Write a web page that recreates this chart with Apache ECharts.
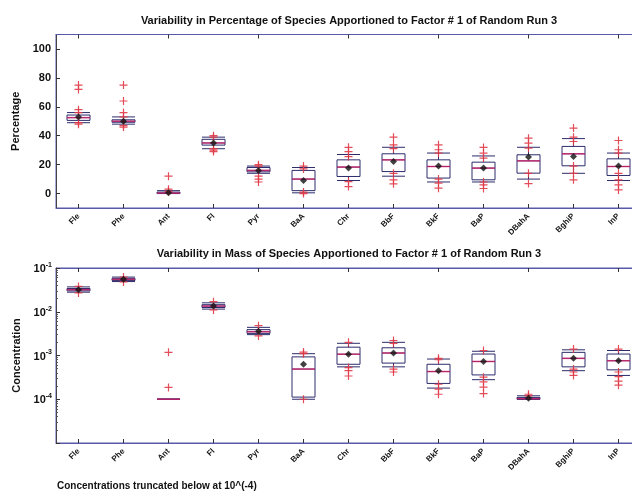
<!DOCTYPE html>
<html><head><meta charset="utf-8">
<script src="https://cdn.jsdelivr.net/npm/echarts@6/dist/echarts.min.js"></script>
<style>html,body{margin:0;padding:0;background:#fff;overflow:hidden}#c{width:650px;height:493px}</style>
</head><body><div id="c"></div>
<script>
// ---- data ----
const cats = ['Fle','Phe','Ant','Fl','Pyr','BaA','Chr','BbF','BkF','BaP','DBahA','BghiP','InP'];
const pctTicks = [0, 20, 40, 60, 80, 100];

// Percentage panel
const pctLo   = [49, 48, 0, 31, 14, 0.5, 9, 12, 8, 8, 10, 14, 9];
const pctQ1   = [50.6, 49.3, 0, 33.5, 15, 2, 11.8, 15.2, 10.7, 9.5, 14.1, 19.2, 12.5];
const pctMed  = [52.5, 50, 0.3, 35, 16, 10, 18.3, 23.3, 18.7, 17.6, 22.6, 27.5, 18.7];
const pctQ3   = [54.3, 51, 1, 37.5, 18, 16, 23.3, 27.5, 23.3, 21.7, 26.8, 32.6, 24];
const pctHi   = [56, 53, 2, 39, 19, 18, 27, 32, 28, 26, 32, 38, 28];
const pctMean = [53, 50, 0.6, 35, 16, 9, 17.6, 22.2, 19, 17.6, 25.2, 25.6, 19];
const pctOut  = [
  [75, 72, 58, 56, 49, 48],
  [75, 64, 56, 53, 47, 46],
  [12, 3, 1.5],
  [40, 39, 31, 30, 29],
  [20, 19, 12, 10, 8],
  [19, 17, 1, 0],
  [32, 29, 25.6, 8.3, 4.8],
  [39, 33.7, 31, 14, 9.5, 6.7],
  [33.7, 30.3, 28, 10, 7.2, 3.7],
  [31.9, 28, 24.5, 8, 6, 3.5],
  [38.3, 34.9, 31.4, 14, 6.9],
  [45.3, 39, 36, 19, 14, 9.5],
  [36.7, 30.3, 28, 14, 9.5, 6, 2.5]
];

// Concentration panel
const concLo   = [0.028, 0.049, 1e-4, 0.0115, 0.003, 1.0e-4, 5.5e-4, 5.5e-4, 1.8e-4, 2.8e-4, 1e-4, 4.5e-4, 3.5e-4];
const concQ1   = [0.030, 0.052, 1e-4, 0.0125, 0.0032, 1.12e-4, 6.3e-4, 6.7e-4, 2.3e-4, 3.6e-4, 1.0e-4, 5.5e-4, 4.7e-4];
const concMed  = [0.032, 0.055, 1e-4, 0.0135, 0.0035, 4.9e-4, 1.07e-3, 1.14e-3, 4.3e-4, 7.3e-4, 1.03e-4, 8.6e-4, 7.6e-4];
const concQ3   = [0.034, 0.058, 1e-4, 0.0145, 0.0039, 9.3e-4, 1.55e-3, 1.5e-3, 6.3e-4, 1.08e-3, 1.1e-4, 1.18e-3, 1.08e-3];
const concHi   = [0.037, 0.062, 1e-4, 0.016, 0.0044, 1.1e-3, 1.9e-3, 2.0e-3, 8.3e-4, 1.25e-3, 1.2e-4, 1.35e-3, 1.3e-3];
const concMean = [0.032, 0.055, null, 0.0135, 0.0036, 6.3e-4, 1.07e-3, 1.14e-3, 4.5e-4, 7.3e-4, 1.05e-4, 8.6e-4, 7.6e-4];
const concOut  = [
  [0.038, 0.027],
  [0.062, 0.048],
  [1.18e-3, 1.86e-4],
  [0.017, 0.011],
  [0.0048, 0.0028],
  [1.2e-3, 1.1e-3, 1e-4],
  [2.0e-3, 5.3e-4, 4.5e-4, 3.4e-4],
  [2.2e-3, 1.9e-3, 4.9e-4, 4.2e-4],
  [8.6e-4, 8e-4, 2.2e-4, 1.7e-4, 1.3e-4],
  [1.3e-3, 3.2e-4, 2.5e-4, 1.9e-4, 1.35e-4],
  [1.3e-4, 1.2e-4],
  [1.4e-3, 4.9e-4, 4.2e-4, 3.5e-4],
  [1.4e-3, 4.2e-4, 3.3e-4, 2.6e-4, 2.1e-4]
];

const title1 = 'Variability in Percentage of Species Apportioned to Factor # 1 of Random Run 3';
const title2 = 'Variability in Mass of Species Apportioned to Factor # 1 of Random Run 3';
const footnote = 'Concentrations truncated below at 10^(-4)';

// ---- helpers ----
const FONT = '"Liberation Sans", Arial, sans-serif';
const frameColor = '#5a58a8';
const PLUS = 'path://M3.4,0H4.6V3.4H8V4.6H4.6V8H3.4V4.6H0V3.4H3.4Z';

function boxData(lo, q1, med, q3, hi) {
  return cats.map((c, i) => [lo[i], q1[i], med[i], q3[i], hi[i]]);
}
function outPairs(outs) {
  const r = [];
  outs.forEach((arr, i) => arr.forEach(v => r.push([i, v])));
  return r;
}
function pairs(vals) {
  return vals.map((v, i) => [i, v]).filter(p => p[1] !== null);
}

function xAxes(gi) {
  return [
    {
      type: 'category', gridIndex: gi, data: cats, position: 'bottom',
      axisLine: { show: true, onZero: false, lineStyle: { color: frameColor, width: 1 } },
      axisTick: { show: true, inside: true, alignWithLabel: true, length: 4, lineStyle: { color: '#333' } },
      axisLabel: { interval: 0, rotate: 45, fontSize: 8, fontWeight: 'bold', color: '#111', margin: 7, fontFamily: FONT },
      splitLine: { show: false }
    },
    {
      type: 'category', gridIndex: gi, data: cats, position: 'top',
      axisLine: { show: true, onZero: false, lineStyle: { color: frameColor, width: 1 } },
      axisTick: { show: true, inside: true, alignWithLabel: true, length: 4, lineStyle: { color: '#333' } },
      axisLabel: { show: false },
      splitLine: { show: false }
    }
  ];
}

function seriesSet(xi, yi, box, outs, med, mean) {
  return [
    {
      type: 'boxplot', xAxisIndex: xi, yAxisIndex: yi, data: box,
      boxWidth: [23, 23],
      itemStyle: { color: 'rgba(0,0,0,0)', borderColor: '#2c2c6c', borderWidth: 1 },
      silent: true, z: 2
    },
    {
      type: 'scatter', xAxisIndex: xi, yAxisIndex: yi, data: pairs(med),
      symbol: 'rect', symbolSize: [23, 1.5],
      itemStyle: { color: '#d42068' }, silent: true, z: 3
    },
    {
      type: 'scatter', xAxisIndex: xi, yAxisIndex: yi, data: outPairs(outs),
      symbol: PLUS, symbolSize: 8,
      itemStyle: { color: '#e03a48', opacity: 0.9 }, silent: true, z: 4
    },
    {
      type: 'scatter', xAxisIndex: xi, yAxisIndex: yi, data: pairs(mean),
      symbol: 'diamond', symbolSize: 7,
      itemStyle: { color: '#111' }, silent: true, z: 5
    }
  ];
}

const chart = echarts.init(document.getElementById('c'), null, { renderer: 'canvas' });
const option = {
  animation: false,
  backgroundColor: '#fff',
  textStyle: { fontFamily: FONT },
  grid: [
    { left: 56, top: 34.5, right: 9, height: 173.5, show: true, borderColor: frameColor, borderWidth: 1, backgroundColor: 'rgba(0,0,0,0)' },
    { left: 56, top: 268, right: 9, height: 175, show: true, borderColor: frameColor, borderWidth: 1, backgroundColor: 'rgba(0,0,0,0)' }
  ],
  xAxis: [].concat(xAxes(0), xAxes(1)),
  yAxis: [
    {
      type: 'value', gridIndex: 0, min: -10, max: 110,
      axisLine: { show: true, lineStyle: { color: '#444' } },
      axisTick: { show: true, inside: true, length: 4, customValues: pctTicks, lineStyle: { color: '#333' } },
      axisLabel: { customValues: pctTicks, fontSize: 11, fontWeight: 'bold', color: '#111', margin: 5, fontFamily: FONT },
      splitLine: { show: false },
      name: 'Percentage', nameLocation: 'middle', nameGap: 31,
      nameTextStyle: { fontSize: 11, fontWeight: 'bold', color: '#111', fontFamily: FONT }
    },
    {
      type: 'log', logBase: 10, gridIndex: 1, min: 1e-5, max: 0.1,
      axisLine: { show: true, lineStyle: { color: '#444' } },
      axisTick: { show: true, inside: true, length: 4, lineStyle: { color: '#333' } },
      minorTick: { show: true, splitNumber: 9, length: 2, lineStyle: { color: '#555' } },
      axisLabel: {
        margin: 4, color: '#111',
        formatter: function (v) {
          if (v < 5e-5) return '';
          return '{b|10}{s|' + Math.round(Math.log10(v)) + '}';
        },
        rich: {
          b: { fontSize: 11, fontWeight: 'bold', color: '#111', fontFamily: FONT, verticalAlign: 'bottom' },
          s: { fontSize: 7, fontWeight: 'bold', color: '#111', fontFamily: FONT, verticalAlign: 'top', padding: [0, 0, 6, 0] }
        }
      },
      splitLine: { show: false }, minorSplitLine: { show: false },
      name: 'Concentration', nameLocation: 'middle', nameGap: 31,
      nameTextStyle: { fontSize: 11, fontWeight: 'bold', color: '#111', fontFamily: FONT }
    }
  ],
  graphic: [
    { type: 'text', x: 349, y: 21, style: { text: title1, font: 'bold 11px ' + FONT, fill: '#111', align: 'center', verticalAlign: 'middle', textAlign: 'center', textVerticalAlign: 'middle' } },
    { type: 'text', x: 349, y: 254, style: { text: title2, font: 'bold 11px ' + FONT, fill: '#111', align: 'center', verticalAlign: 'middle', textAlign: 'center', textVerticalAlign: 'middle' } },
    { type: 'text', x: 57, y: 486, style: { text: footnote, font: 'bold 10px ' + FONT, fill: '#111', align: 'left', verticalAlign: 'middle', textAlign: 'left', textVerticalAlign: 'middle' } }
  ],
  series: [].concat(
    seriesSet(0, 0, boxData(pctLo, pctQ1, pctMed, pctQ3, pctHi), pctOut, pctMed, pctMean),
    seriesSet(2, 1, boxData(concLo, concQ1, concMed, concQ3, concHi), concOut, concMed, concMean)
  )
};
chart.setOption(option);
</script>
</body></html>
